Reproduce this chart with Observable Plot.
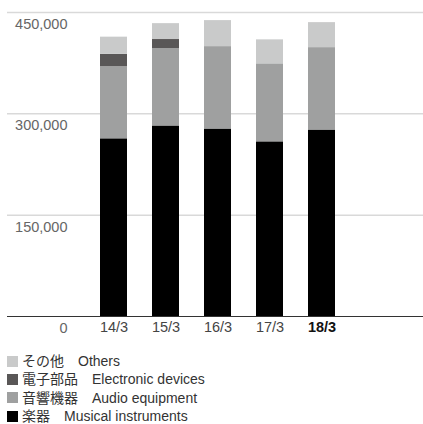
<!DOCTYPE html>
<html>
<head>
<meta charset="utf-8">
<script src="https://cdn.jsdelivr.net/npm/d3@7"></script>
<script src="https://cdn.jsdelivr.net/npm/@observablehq/plot@0.6"></script>
<style>
  body { margin: 0; background: #fff; font-family: "Liberation Sans", "Noto Sans CJK JP", sans-serif; }
  #chart svg { display: block; }
  .legend { margin-top: 12px; padding-left: 7px; font-family: "Liberation Sans", "Noto Sans CJK JP", sans-serif; font-size: 14px; color: #333; }
  .legend .row { display: flex; align-items: center; height: 18.3px; white-space: nowrap; }
  .legend .row span.t { line-height: 12px; }
  .legend .sw { width: 11px; height: 11px; margin-right: 4px; flex: none; }
</style>
</head>
<body>
<div id="chart"></div>
<div class="legend" id="legend"></div>
<script>
const years = ["14/3", "15/3", "16/3", "17/3", "18/3"];
const seriesNames = ["楽器", "音響機器", "電子部品", "その他"];
const seriesEnglish = ["Musical instruments", "Audio equipment", "Electronic devices", "Others"];
const seriesColors = ["#000000", "#9fa0a0", "#595757", "#c9caca"];
const musical = [263000, 282000, 277500, 258500, 276000];
const audio = [107000, 114500, 122000, 115500, 122000];
const electronic = [18000, 13500, 0, 0, 0];
const others = [25500, 23500, 38500, 35500, 37000];
const yTicks = [0, 150000, 300000, 450000];

const valuesBySeries = [musical, audio, electronic, others];
const data = [];
seriesNames.forEach((s, i) => {
  years.forEach((y, j) => data.push({ year: y, series: s, value: valuesBySeries[i][j] }));
});

const chart = Plot.plot({
  width: 423,
  height: 340,
  marginLeft: 7,
  marginRight: 0,
  marginTop: 12,
  marginBottom: 24,
  style: { fontFamily: "'Liberation Sans', 'Noto Sans CJK JP', sans-serif", fontSize: "14px" },
  x: { domain: years, range: [72, 362], padding: 0.488, label: null },
  y: { domain: [0, 450000], label: null },
  color: { domain: seriesNames, range: seriesColors },
  marks: [
    Plot.ruleY(yTicks.slice(1), { stroke: "#d9d9d9", strokeWidth: 1.5 }),
    Plot.barY(data, { x: "year", y: "value", fill: "series" }),
    Plot.ruleY([0], { stroke: "#333", strokeWidth: 1 }),
    Plot.axisY(yTicks, { anchor: "left", tickSize: 0, tickPadding: 0, dx: 60, dy: 12, tickFormat: d3.format(","), fill: "#666", fontSize: 14.5, label: null }),
    Plot.axisX(years.slice(0, 4), { tickSize: 0, tickPadding: 5, fill: "#444", fontSize: 14.5, label: null }),
    Plot.axisX(years.slice(4), { tickSize: 0, tickPadding: 5, fill: "#111", fontWeight: "bold", fontSize: 14.5, label: null })
  ]
});
document.getElementById("chart").appendChild(chart);

const legend = document.getElementById("legend");
[3, 2, 1, 0].forEach(i => {
  const row = document.createElement("div");
  row.className = "row";
  const sw = document.createElement("span");
  sw.className = "sw";
  sw.style.background = seriesColors[i];
  const label = document.createElement("span");
  label.className = "t";
  label.textContent = seriesNames[i] + "\u3000" + seriesEnglish[i];
  row.appendChild(sw);
  row.appendChild(label);
  legend.appendChild(row);
});
</script>
</body>
</html>
